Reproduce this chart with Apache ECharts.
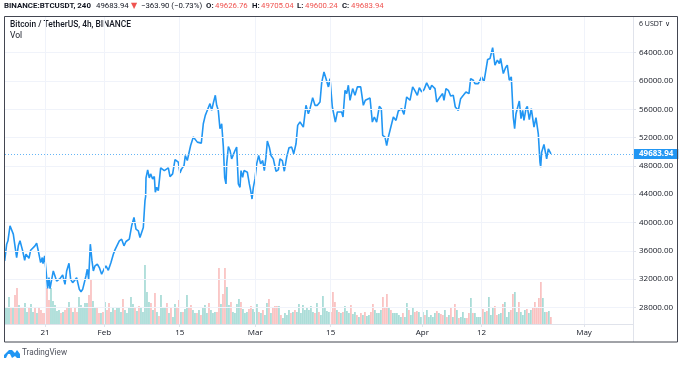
<!DOCTYPE html>
<html>
<head>
<meta charset="utf-8">
<title>BTCUSDT</title>
<script src="https://cdn.jsdelivr.net/npm/echarts@6/dist/echarts.min.js"></script>
<style>
html, body { margin: 0; padding: 0; background: #fff; }
#chart { width: 682px; height: 366px; }
</style>
</head>
<body>
<div id="chart"></div>
<script>
// x values are days counted from Jan 1 (2021)
const priceDays = [
    12.52,12.89,13.13,13.51,13.75,14.12,14.31,14.56,14.74,15.05,15.36,15.55,15.86,16.23,16.47,16.72,17.03,17.34,17.71,18.14,
    18.45,18.82,19.19,19.50,19.63,19.94,20.31,20.49,20.74,20.93,21.24,21.54,21.85,22.16,22.47,22.78,23.28,23.71,24.02,24.45,
    24.76,25.13,25.56,25.87,26.37,26.68,26.99,27.60,27.85,28.10,28.41,28.72,28.97,29.27,29.71,30.08,30.51,30.94,31.31,31.75,
    32.24,32.68,32.98,33.29,33.79,34.22,34.65,35.03,35.64,36.08,36.51,36.88,37.31,37.62,37.93,38.24,38.43,38.55,38.67,38.74,
    39.05,39.35,39.60,39.97,40.28,40.47,40.72,41.02,41.46,41.83,42.14,42.45,42.88,43.19,43.68,44.12,44.43,44.73,45.04,45.35,
    45.79,46.03,46.40,46.65,47.02,47.52,47.83,48.26,48.51,49.00,49.37,49.74,49.99,50.30,50.61,50.92,51.23,51.60,51.85,52.15,
    52.46,52.78,53.09,53.34,53.58,53.71,54.02,54.33,54.63,55.25,55.56,55.87,56.18,56.37,56.67,56.92,57.54,57.91,58.16,58.41,
    58.65,58.96,59.27,59.64,60.01,60.39,60.69,61.00,61.25,61.62,61.93,62.36,62.86,63.29,63.60,64.03,64.40,64.84,65.27,65.77,
    66.14,66.57,66.88,67.31,67.62,67.93,68.42,68.86,69.17,69.66,70.09,70.53,71.02,71.33,71.76,72.13,72.57,72.88,73.31,73.62,
    73.87,74.24,74.61,75.04,75.29,75.66,75.97,76.28,76.59,77.08,77.51,77.95,78.57,79.06,79.43,80.30,80.73,81.10,81.53,82.03,
    82.40,82.65,83.08,83.39,83.70,84.13,84.63,85.12,85.55,86.17,86.60,87.10,87.72,88.21,88.65,89.08,89.45,89.88,90.32,90.81,
    91.43,91.74,92.36,92.67,93.28,93.77,94.02,94.39,94.83,95.26,95.75,96.12,96.68,97.11,97.61,98.10,98.66,98.97,99.46,99.77,
    100.39,101.01,101.44,101.75,102.12,102.56,103.05,103.48,103.92,104.29,104.53,105.03,105.46,105.77,106.14,106.51,106.88,107.13,107.38,108.00,
    108.31,108.62,108.86,109.24,109.48,109.85,110.22,110.72,111.09,111.52,111.83,111.96,112.14,112.57,113.07,113.38,113.87
];
const prices = [
    34575,36939,37412,39539,39681,38357,38593,35993,35048,36703,37412,37175,35993,34670,35521,35757,34954,36088,35993,36703,
    37081,35757,34339,35048,34197,35284,32212,30699,32212,30652,30699,33157,32448,31739,31975,32070,32590,31266,33157,34244,
    31975,31503,31881,32212,30557,30226,30557,32448,33393,31975,36939,34575,33157,33866,34103,33630,32685,33393,33866,33252,
    34339,35521,36135,35993,37412,37648,36703,37317,37648,39539,40720,39066,38830,37884,38120,39302,41666,43084,43651,46298,
    47433,46298,46866,46156,46487,44266,44974,44502,47716,47811,47338,47102,47716,46487,46866,48898,48662,48520,47007,47575,
    48047,49465,48756,48520,50883,52065,51971,51356,51592,51214,53956,55138,55611,55847,56792,55847,56887,57974,56556,55847,
    53247,53956,50647,46298,45447,48283,50742,50174,48992,50174,50647,45447,44974,47338,46392,47338,47102,45447,44502,43320,
    44974,46156,48283,49465,48283,48756,47338,49229,51498,50647,49465,48992,47244,47433,48992,48756,47244,49229,50552,50647,
    49701,51119,53719,54192,54428,53483,56555,55374,56083,57643,56555,56555,57028,59722,61283,60337,59155,60337,56319,56414,
    54192,55610,55846,55610,54901,58683,58210,59392,57264,58919,57973,59155,59155,56555,57264,57595,54192,54901,54192,56414,
    56083,52301,52065,50883,52065,53388,54901,54428,55752,56083,55279,57737,57264,59155,58588,57973,59061,58446,58777,59722,
    58777,59392,58919,57028,57737,58209,57263,58918,58681,57878,57972,56318,55845,57500,57972,58445,58209,60336,60099,59627,
    59627,60572,59863,60099,63030,63172,64700,62226,62936,62463,63172,61045,61896,62226,60099,60572,54900,53245,55373,57169,
    54663,55845,54427,56081,56412,54522,56081,53482,54806,52536,48518,47809,49936,51023,48991,50409,49683.94
];
const lastPrice = 49683.94;

// volume per bar, one bar every 0.371 day starting at firstVolDay
const firstVolDay = 12.58;
const volDayStep = 0.371;
const volumes = [
    17,17,27,16,17,29,36,19,16,16,21,12,16,20,12,17,11,16,14,11,11,36,24,36,23,19,13,14,11,12,14,17,22,16,12,17,12,27,19,17,21,21,29,44,23,16,17,11,11,12,22,14,21,12,16,
    14,16,16,12,25,14,11,17,27,20,16,13,18,16,12,59,32,22,21,14,31,12,8,29,16,16,21,11,17,7,20,17,24,12,12,15,29,16,19,14,11,11,14,9,16,19,11,21,14,11,12,12,56,20,30,
    56,37,19,22,12,11,20,25,22,15,11,12,15,18,15,12,20,12,11,14,9,21,25,11,16,18,18,18,9,6,11,9,14,11,12,14,12,20,11,19,14,17,14,18,12,11,21,12,9,28,16,13,12,12,32,
    22,14,12,11,12,18,13,11,19,10,12,9,7,11,9,12,8,9,12,20,14,11,11,14,27,16,30,16,14,11,11,11,9,7,11,7,21,14,9,17,12,13,12,7,12,9,14,7,9,7,11,13,11,10,9,
    14,7,9,16,7,20,14,6,7,12,6,6,11,26,11,11,7,7,7,15,12,13,27,9,16,18,9,10,11,20,22,7,12,14,30,32,12,22,12,9,14,15,11,14,16,22,16,26,42,26,12,12,13,7
];
// 1 = up bar, 0 = down bar
const volUp = [
    1,1,1,0,1,0,0,1,0,0,1,1,0,1,1,0,1,0,0,0,0,0,0,1,1,1,1,1,0,1,0,0,1,0,1,0,0,1,1,1,1,1,0,0,1,1,0,0,1,0,1,0,0,1,1,
    0,1,1,1,0,1,1,1,1,1,0,1,0,1,1,1,1,1,0,1,0,1,0,1,1,1,0,1,0,1,1,0,0,1,0,1,1,0,0,1,1,0,1,0,1,1,1,0,1,1,1,0,0,1,0,
    0,1,1,0,1,1,1,1,0,1,1,1,0,0,1,1,1,0,1,0,1,1,0,1,0,0,0,1,0,1,1,1,1,0,1,0,1,1,1,1,1,1,1,1,1,0,1,0,1,1,1,1,1,0,0,
    0,1,0,1,0,1,1,1,0,1,1,0,1,0,1,0,1,1,0,0,1,1,1,1,0,0,0,1,0,1,1,1,1,1,0,1,1,0,1,1,0,0,1,1,1,0,1,1,1,1,1,0,1,0,0,
    1,0,1,0,1,0,1,0,1,1,1,0,0,1,0,1,1,1,1,0,1,0,1,1,1,0,0,1,1,0,1,1,1,0,0,1,1,0,1,1,1,0,1,1,0,0,0,0,0,1,1,0,1,0
];

const priceTicks = [28000,32000,36000,40000,44000,48000,52000,56000,60000,64000];
const timeTicks = [20,31,45,59,73,90,101,120];
const timeLabels = ['21','Feb','15','Mar','15','Apr','12','May'];

const fontName = '"Open Sans", sans-serif';
const gridColor = '#f0f3fa';
const textColor = '#131722';
const redColor = '#ef5350';

// header line pieces: [left, text, font, colour]
const headerPieces = [
    [4, 'BINANCE:BTCUSDT, 240', '700 7.9px Roboto', textColor],
    [96, '49683.94', '7.8px Roboto', textColor],
    [131, '▼', '8px "DejaVu Sans"', redColor],
    [141, '−363.90 (−0.73%)', '7.8px Roboto', textColor],
    [206, 'O:', '700 7.8px Roboto', textColor],
    [215, '49626.76', '7.8px Roboto', redColor],
    [252, 'H:', '700 7.8px Roboto', textColor],
    [261, '49705.04', '7.8px Roboto', redColor],
    [297, 'L:', '700 7.8px Roboto', textColor],
    [305, '49600.24', '7.8px Roboto', redColor],
    [342, 'C:', '700 7.8px Roboto', textColor],
    [351, '49683.94', '7.8px Roboto', redColor]
];

function buildVolData() {
    return volumes.map((v, i) => ({
        value: [firstVolDay + i * volDayStep, v],
        itemStyle: { color: volUp[i] ? 'rgba(38,166,154,0.7)' : 'rgba(239,83,80,0.62)' }
    }));
}

function gridLines(axisKey, values) {
    return values.map(v => ({ [axisKey]: v }));
}

const myChart = echarts.init(document.getElementById('chart'));

const option = {
    animation: false,
    backgroundColor: '#fff',
    textStyle: { fontFamily: fontName },
    grid: { left: 5, right: 49, top: 17, bottom: 42 },
    xAxis: {
        type: 'value',
        min: 12.58,
        max: 129.09,
        axisLine: { onZero: false, lineStyle: { color: '#e0e3eb' } },
        axisTick: { length: 3, lineStyle: { color: '#e0e3eb' }, customValues: timeTicks },
        axisLabel: {
            customValues: timeTicks,
            color: textColor,
            fontSize: 8,
            margin: 5,
            formatter: value => timeLabels[timeTicks.indexOf(value)]
        },
        splitLine: { show: false }
    },
    yAxis: [
        {
            type: 'value',
            position: 'right',
            min: 25660,
            max: 69034,
            axisLine: { show: true, lineStyle: { color: '#e0e3eb' } },
            axisTick: { show: true, length: 3, lineStyle: { color: '#e0e3eb' }, customValues: priceTicks },
            axisLabel: {
                customValues: priceTicks,
                color: textColor,
                fontSize: 8,
                margin: 6,
                formatter: value => value.toFixed(2)
            },
            splitLine: { show: false }
        },
        { type: 'value', min: 0, max: 307, show: false }
    ],
    series: [
        {
            name: 'Vol',
            type: 'bar',
            yAxisIndex: 1,
            barWidth: 1,
            data: buildVolData(),
            markLine: {
                silent: true,
                symbol: 'none',
                animation: false,
                label: { show: false },
                lineStyle: { color: gridColor, width: 1, type: 'solid' },
                data: gridLines('xAxis', timeTicks)
            },
            z: 2
        },
        {
            name: 'Grid',
            type: 'line',
            data: [],
            markLine: {
                silent: true,
                symbol: 'none',
                animation: false,
                label: { show: false },
                lineStyle: { color: gridColor, width: 1, type: 'solid' },
                data: gridLines('yAxis', priceTicks)
            },
            z: 1
        },
        {
            name: 'BTCUSDT',
            type: 'line',
            showSymbol: false,
            lineStyle: { color: '#2196f3', width: 1.6 },
            data: priceDays.map((d, i) => [d, prices[i]]),
            markLine: {
                silent: true,
                symbol: 'none',
                animation: false,
                label: {
                    show: true,
                    position: 'end',
                    distance: 0,
                    formatter: lastPrice.toFixed(2),
                    backgroundColor: '#2196f3',
                    color: '#fff',
                    fontSize: 8,
                    fontWeight: 'bold',
                    fontFamily: fontName,
                    padding: [1, 5, 1, 6]
                },
                data: [{
                    yAxis: lastPrice,
                    lineStyle: { color: '#64b5f6', width: 1, type: [1, 2], opacity: 1 }
                }]
            },
            z: 3
        }
    ],
    graphic: [
        {
            type: 'rect',
            shape: { x: 4.5, y: 16.5, width: 673, height: 325.5 },
            style: { fill: 'none', stroke: '#434651', lineWidth: 1 },
            z: 10
        },
        {
            type: 'line',
            shape: { x1: 633.5, y1: 17, x2: 633.5, y2: 342 },
            style: { stroke: '#e0e3eb', lineWidth: 1 },
            z: 9
        },
        ...headerPieces.map(p => ({
            type: 'text',
            x: p[0],
            y: 2,
            style: { text: p[1], font: p[2], fill: p[3] }
        })),
        {
            type: 'text',
            x: 10,
            y: 21,
            style: { text: 'Bitcoin / TetherUS, 4h, BINANCE', font: '500 8.4px Roboto', fill: textColor }
        },
        {
            type: 'text',
            x: 10,
            y: 31,
            style: { text: 'Vol', font: '8.5px Roboto', fill: textColor }
        },
        {
            type: 'text',
            x: 639,
            y: 20,
            style: { text: '6 USDT ∨', font: '7px "Open Sans"', fill: textColor }
        },
        {
            type: 'polygon',
            shape: { points: [[4,358],[4,355],[9,350],[12,350],[15,353],[17,350],[20,354],[20,358],[17,358],[15,356],[12,358],[10,354],[8,354],[6,358]] },
            style: { fill: '#2196f3' }
        },
        {
            type: 'text',
            x: 22,
            y: 349,
            style: { text: 'TradingView', font: '8.2px Roboto', fill: '#50535e' }
        }
    ]
};

myChart.setOption(option);
</script>
</body>
</html>
